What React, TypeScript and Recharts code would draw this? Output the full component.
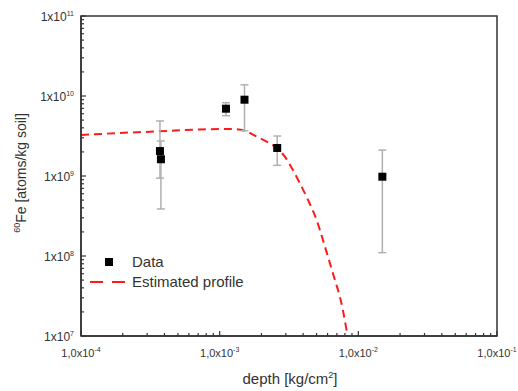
import React from 'react';
import { ComposedChart, Scatter, Line, XAxis, YAxis, ErrorBar, ReferenceArea } from 'recharts';

// Measured data (depth in kg/cm^2, 60Fe in atoms/kg soil)
const dataDepth = [3.71e-4, 3.77e-4, 1.11e-3, 1.51e-3, 2.6e-3, 1.49e-2];
const dataConc = [2.05e9, 1.62e9, 6.94e9, 8.99e9, 2.24e9, 9.8e8];
const dataLower = [9.4e8, 3.87e8, 5.68e9, 3.68e9, 1.36e9, 1.1e8];
const dataUpper = [4.87e9, 2.74e9, 8.24e9, 1.38e10, 3.16e9, 2.11e9];

// Estimated profile
const profileDepth = [1e-4, 1.91e-4, 3.71e-4, 7.21e-4, 1.186e-3, 1.52e-3, 1.796e-3, 2.23e-3, 2.59e-3, 2.96e-3, 3.32e-3, 3.79e-3, 4.34e-3, 5.03e-3, 5.56e-3, 6.04e-3, 6.78e-3, 7.36e-3, 8.14e-3, 8.35e-3];
const profileConc = [3.25e9, 3.45e9, 3.62e9, 3.81e9, 3.87e9, 3.68e9, 3.19e9, 2.64e9, 2.22e9, 1.73e9, 1.25e9, 8.1e8, 5.0e8, 2.74e8, 1.58e8, 9.8e7, 5.0e7, 3.1e7, 1.31e7, 1.0e7];

// Axis ticks
const xMajorTicks = [1e-4, 1e-3, 1e-2, 1e-1];
const xTickExp = ['-4', '-3', '-2', '-1'];
const yMajorTicks = [1e7, 1e8, 1e9, 1e10, 1e11];
const yTickExp = ['7', '8', '9', '10', '11'];
const minorMultipliers = [2, 3, 4, 5, 6, 7, 8, 9];

const withMinor = (majors: number[]) => {
  const out: number[] = [];
  majors.forEach((m, i) => {
    out.push(m);
    if (i < majors.length - 1) minorMultipliers.forEach((k) => out.push(k * m));
  });
  return out;
};
const xTicks = withMinor(xMajorTicks);
const yTicks = withMinor(yMajorTicks);

const points = dataDepth.map((x, i) => ({
  x,
  y: dataConc[i],
  err: [dataConc[i] - dataLower[i], dataUpper[i] - dataConc[i]],
}));
const profile = profileDepth.map((x, i) => ({ x, y: profileConc[i] }));

const majorIndex = (list: number[], v: number) =>
  list.findIndex((t) => Math.abs(Math.log10(t) - Math.log10(v)) < 1e-6);

const TXT = '#333';
const FONT = 'Liberation Sans, Arial, sans-serif';

const XTick = (props: any) => {
  const { x, y, payload } = props;
  const idx = majorIndex(xMajorTicks, payload.value);
  const major = idx >= 0;
  return (
    <g>
      <line x1={x} x2={x} y1={y} y2={y - (major ? 5 : 3)} stroke={TXT} strokeWidth={1.2} />
      {major && (
        <text x={x} y={y + 21} textAnchor="middle" fontSize={11} fill={TXT} fontFamily={FONT}>
          1,0x10
          <tspan dy={-5} fontSize={7}>{xTickExp[idx]}</tspan>
        </text>
      )}
    </g>
  );
};

const YTick = (props: any) => {
  const { x, y, payload } = props;
  const idx = majorIndex(yMajorTicks, payload.value);
  const major = idx >= 0;
  return (
    <g>
      <line x1={x} x2={x + (major ? 5 : 3)} y1={y} y2={y} stroke={TXT} strokeWidth={1.2} />
      {major && (
        <text x={x - 7} y={y + 5} textAnchor="end" fontSize={12} fill={TXT} fontFamily={FONT}>
          1x10
          <tspan dy={-5} fontSize={7}>{yTickExp[idx]}</tspan>
        </text>
      )}
    </g>
  );
};

const Square = (props: any) => {
  const { cx, cy } = props;
  return <rect x={cx - 4} y={cy - 4} width={8} height={8} fill="#000" />;
};

export default function App() {
  return (
    <div style={{ position: 'absolute', left: 0, top: 0, width: 518, height: 391, background: '#fff' }}>
      <ComposedChart
        width={518}
        height={391}
        margin={{ top: 16, right: 21, bottom: 25, left: 21 }}
      >
        <XAxis
          dataKey="x"
          type="number"
          scale="log"
          domain={[1e-4, 1e-1]}
          ticks={xTicks}
          interval={0}
          allowDataOverflow
          height={30}
          tickSize={0}
          tickMargin={0}
          tickLine={false}
          tick={(p: any) => <XTick {...p} />}
          axisLine={{ stroke: TXT, strokeWidth: 1.5 }}
        />
        <YAxis
          type="number"
          scale="log"
          domain={[1e7, 1e11]}
          ticks={yTicks}
          interval={0}
          allowDataOverflow
          width={60}
          tickSize={0}
          tickMargin={0}
          tickLine={false}
          tick={(p: any) => <YTick {...p} />}
          axisLine={{ stroke: TXT, strokeWidth: 1.5 }}
        />
        <ReferenceArea
          x1={1e-4}
          x2={1e-1}
          y1={1e7}
          y2={1e11}
          fill="none"
          fillOpacity={0}
          stroke={TXT}
          strokeWidth={1.5}
          ifOverflow="visible"
        />
        <Line
          data={profile}
          dataKey="y"
          type="monotone"
          stroke="#ff1a1a"
          strokeWidth={2}
          strokeDasharray="8 5"
          dot={false}
          activeDot={false}
          isAnimationActive={false}
        />
        <Scatter data={points} dataKey="y" shape={<Square />} isAnimationActive={false}>
          <ErrorBar dataKey="err" direction="y" width={4} stroke="#b0b0b0" strokeWidth={1.5} />
        </Scatter>
      </ComposedChart>
      <svg
        width={518}
        height={391}
        style={{ position: 'absolute', left: 0, top: 0, pointerEvents: 'none' }}
        fontFamily={FONT}
      >
        <text transform="translate(26,173) rotate(-90)" textAnchor="middle" fontSize={14} fill={TXT}>
          <tspan fontSize={9} dy={-6}>60</tspan>
          <tspan dy={6}>Fe [atoms/kg soil]</tspan>
        </text>
        <text x={290} y={384} textAnchor="middle" fontSize={15} fill={TXT}>
          depth [kg/cm
          <tspan dy={-6} fontSize={9}>2</tspan>
          <tspan dy={6}>]</tspan>
        </text>
        <rect x={105} y={258} width={8} height={8} fill="#000" />
        <text x={132} y={267} fontSize={15} fill={TXT}>Data</text>
        <line x1={90} x2={126} y1={282} y2={282} stroke="#ff1a1a" strokeWidth={2} strokeDasharray="13 9" />
        <text x={132} y={287} fontSize={15} fill={TXT}>Estimated profile</text>
      </svg>
    </div>
  );
}
